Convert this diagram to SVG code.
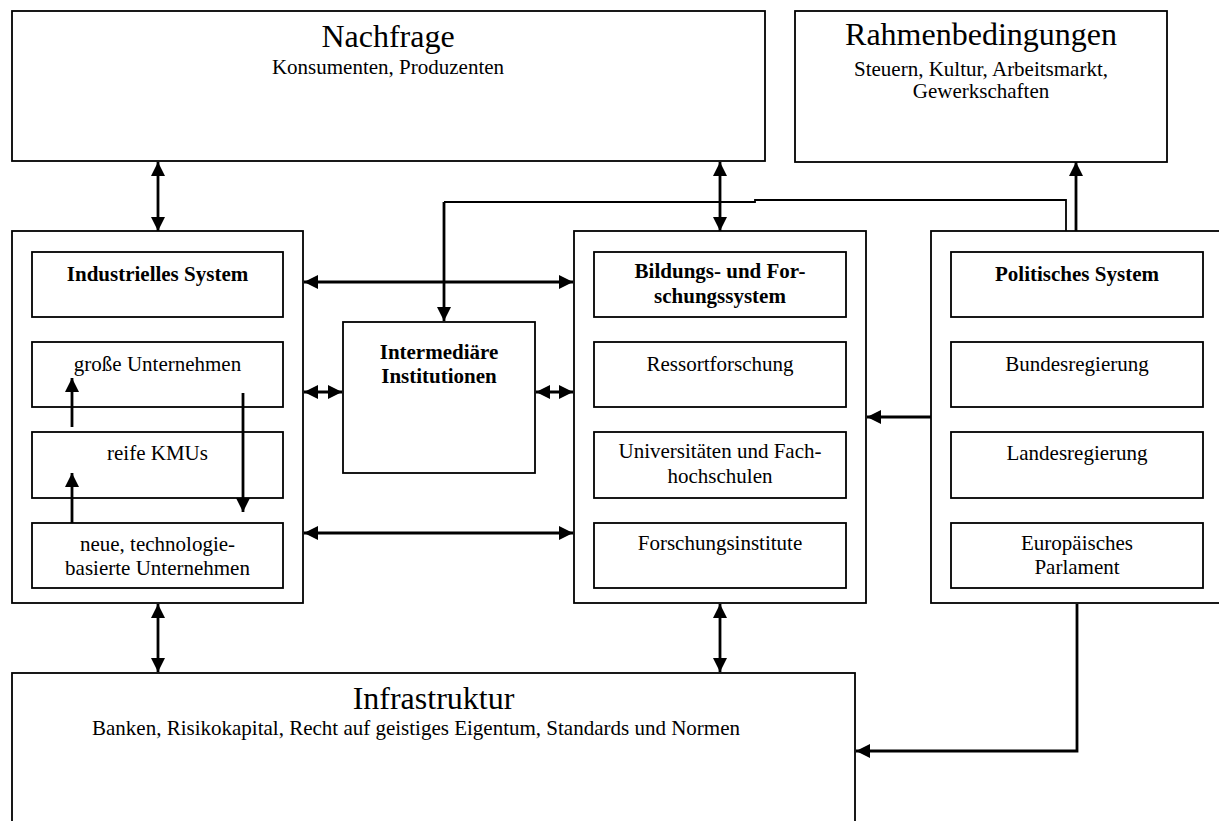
<svg xmlns="http://www.w3.org/2000/svg" width="1219" height="821" viewBox="0 0 1219 821">
<style>
.box{fill:#fff;stroke:#000;stroke-width:1.8}
.t{font-family:"Liberation Serif","Times New Roman",serif;font-size:21px;fill:#000;text-anchor:middle}
.b{font-weight:bold}
.big{font-size:32px}
.c{fill:none;stroke:#000;stroke-width:2.8}
.ln{fill:none;stroke:#000;stroke-width:1.8}
</style>
<defs>
<marker id="ah" viewBox="0 0 14 14" refX="14" refY="7" markerWidth="14" markerHeight="14" markerUnits="userSpaceOnUse" orient="auto-start-reverse">
<path d="M0,0 L14,7 L0,14 z" fill="#000"/>
</marker>
</defs>
<rect width="1219" height="821" fill="#fff"/>

<g id="nachfrage">
<rect class="box" x="12" y="11" width="753" height="150"/>
<text class="t big" x="388" y="47">Nachfrage</text>
<text class="t" x="388" y="74">Konsumenten, Produzenten</text>
</g>

<g id="rahmenbedingungen">
<rect class="box" x="795" y="11" width="372" height="151"/>
<text class="t big" x="981" y="45">Rahmenbedingungen</text>
<text class="t" x="981" y="76">Steuern, Kultur, Arbeitsmarkt,</text>
<text class="t" x="981" y="98">Gewerkschaften</text>
</g>

<g id="industrielles-system">
<rect class="box" x="12" y="231" width="291" height="372"/>
<rect class="box" x="32" y="252" width="251" height="65"/>
<text class="t b" x="157.5" y="281">Industrielles System</text>
<rect class="box" x="32" y="342" width="251" height="65"/>
<text class="t" x="157.5" y="371">große Unternehmen</text>
<rect class="box" x="32" y="432" width="251" height="66"/>
<text class="t" x="157.5" y="460">reife KMUs</text>
<rect class="box" x="32" y="523" width="251" height="65"/>
<text class="t" x="157.5" y="551">neue, technologie-</text>
<text class="t" x="157.5" y="575">basierte Unternehmen</text>
</g>

<g id="intermediaere-institutionen">
<rect class="box" x="343" y="322" width="192" height="151"/>
<text class="t b" x="439" y="359">Intermediäre</text>
<text class="t b" x="439" y="383">Institutionen</text>
</g>

<g id="bildungs-forschungssystem">
<rect class="box" x="574" y="231" width="292" height="372"/>
<rect class="box" x="594" y="252" width="252" height="65"/>
<text class="t b" x="720" y="278">Bildungs- und For-</text>
<text class="t b" x="720" y="303">schungssystem</text>
<rect class="box" x="594" y="342" width="252" height="65"/>
<text class="t" x="720" y="371">Ressortforschung</text>
<rect class="box" x="594" y="432" width="252" height="66"/>
<text class="t" x="720" y="458">Universitäten und Fach-</text>
<text class="t" x="720" y="483">hochschulen</text>
<rect class="box" x="594" y="523" width="252" height="65"/>
<text class="t" x="720" y="550">Forschungsinstitute</text>
</g>

<g id="politisches-system">
<rect class="box" x="931" y="231" width="300" height="372"/>
<rect class="box" x="951" y="252" width="252" height="65"/>
<text class="t b" x="1077" y="281">Politisches System</text>
<rect class="box" x="951" y="342" width="252" height="65"/>
<text class="t" x="1077" y="371">Bundesregierung</text>
<rect class="box" x="951" y="432" width="252" height="66"/>
<text class="t" x="1077" y="460">Landesregierung</text>
<rect class="box" x="951" y="523" width="252" height="65"/>
<text class="t" x="1077" y="550">Europäisches</text>
<text class="t" x="1077" y="574">Parlament</text>
</g>

<g id="infrastruktur">
<rect class="box" x="12" y="673" width="843" height="170"/>
<text class="t big" x="433.5" y="709">Infrastruktur</text>
<text class="t" x="416" y="735">Banken, Risikokapital, Recht auf geistiges Eigentum, Standards und Normen</text>
</g>

<g id="connectors">
<path class="c" d="M158,162 V231" marker-start="url(#ah)" marker-end="url(#ah)"/>
<path class="c" d="M720,162 V231" marker-start="url(#ah)" marker-end="url(#ah)"/>
<path class="c" d="M1076,231 V162" marker-end="url(#ah)"/>
<path class="ln" d="M1066,231 V200 H755 V202 H444"/>
<path class="c" d="M444,202 V321" marker-end="url(#ah)"/>
<path class="c" d="M304,282 H573" marker-start="url(#ah)" marker-end="url(#ah)"/>
<path class="c" d="M304,392 H342" marker-start="url(#ah)" marker-end="url(#ah)"/>
<path class="c" d="M536,392 H573" marker-start="url(#ah)" marker-end="url(#ah)"/>
<path class="c" d="M304,533 H573" marker-start="url(#ah)" marker-end="url(#ah)"/>
<path class="c" d="M931,417 H867" marker-end="url(#ah)"/>
<path class="c" d="M72,427 V378" marker-end="url(#ah)"/>
<path class="c" d="M72,523 V473" marker-end="url(#ah)"/>
<path class="c" d="M243,393 V512" marker-end="url(#ah)"/>
<path class="c" d="M158,604 V672" marker-start="url(#ah)" marker-end="url(#ah)"/>
<path class="c" d="M720,604 V672" marker-start="url(#ah)" marker-end="url(#ah)"/>
<path class="c" d="M1077,604 V751 H856" marker-end="url(#ah)"/>
</g>
</svg>
